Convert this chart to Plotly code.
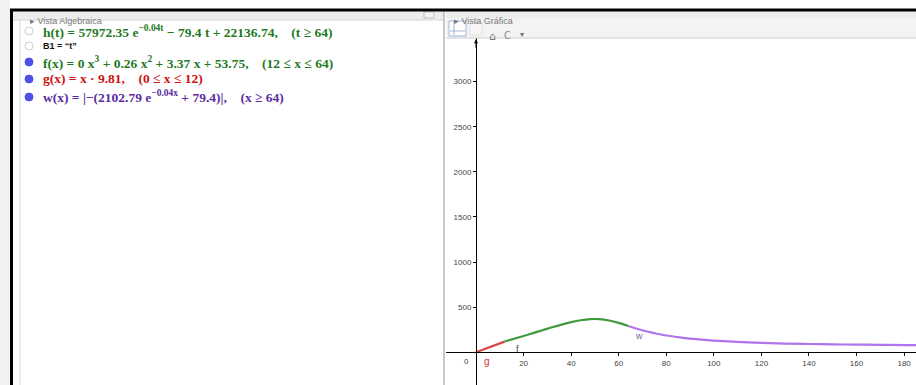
import plotly.graph_objects as go

W, H = 916, 385

# ---- data ----
g_x = [0, 12]
g_y = [0, 118]

f_x = [12, 16, 20, 24, 28, 32, 36, 40, 44, 48, 52, 56, 60, 64]
f_y = [120, 150, 181, 213, 245, 277, 307, 334, 355, 368, 367, 352, 326, 292]

w_x = [64, 68, 72, 76, 80, 88, 96, 104, 112, 120, 130, 140, 150, 160, 170, 180, 186]
w_y = [292, 258, 230, 206, 186, 158, 138, 123, 112, 104, 97, 92, 88, 85, 82, 80, 79]

x_ticks = [20, 40, 60, 80, 100, 120, 140, 160, 180]
y_ticks = [500, 1000, 1500, 2000, 2500, 3000]

algebra_rows = [
    ("h(t) = 57972.35 e<sup>−0.04t</sup> − 79.4 t + 22136.74,\u00a0\u00a0\u00a0\u00a0(t ≥ 64)", "#1f7a1f", False),
    ("B1 = “t”", "#111111", False),
    ("f(x) = 0 x<sup>3</sup> + 0.26 x<sup>2</sup> + 3.37 x + 53.75,\u00a0\u00a0\u00a0\u00a0(12 ≤ x ≤ 64)", "#1f7a1f", True),
    ("g(x) = x · 9.81,\u00a0\u00a0\u00a0\u00a0(0 ≤ x ≤ 12)", "#cc1111", True),
    ("w(x) = |−(2102.79 e<sup>−0.04x</sup> + 79.4)|,\u00a0\u00a0\u00a0\u00a0(x ≥ 64)", "#5a2ca0", True),
]
row_y = [31, 46, 62, 79, 97]

X_RANGE = [-12.62, 185.0]
Y_RANGE = [-362.5, 3484]


def px(x):
    return x / W


def py(y):
    return 1 - y / H


fig = go.Figure()
fig.add_trace(go.Scatter(x=g_x, y=g_y, mode="lines", line=dict(color="#d94848", width=2.2), hoverinfo="skip"))
fig.add_trace(go.Scatter(x=f_x, y=f_y, mode="lines", line=dict(color="#3f9a3f", width=2.2, shape="spline"), hoverinfo="skip"))
fig.add_trace(go.Scatter(x=w_x, y=w_y, mode="lines", line=dict(color="#b074ec", width=2.2, shape="spline"), hoverinfo="skip"))

shapes = []
ann = []

def rect(x0, y0, x1, y1, fill, line=None, lw=0):
    shapes.append(dict(type="rect", xref="paper", yref="paper", x0=px(x0), x1=px(x1), y0=py(y1), y1=py(y0),
                       fillcolor=fill, line=dict(color=line or fill, width=lw), layer="below"))

def hline(x0, x1, y, color, w):
    shapes.append(dict(type="line", xref="paper", yref="paper", x0=px(x0), x1=px(x1), y0=py(y), y1=py(y),
                       line=dict(color=color, width=w), layer="above"))

def vline(x, y0, y1, color, w):
    shapes.append(dict(type="line", xref="paper", yref="paper", x0=px(x), x1=px(x), y0=py(y0), y1=py(y1),
                       line=dict(color=color, width=w), layer="above"))

# window background pieces
rect(0, 0, 10, 385, "#f1f1f1")
rect(13, 11, 443, 20, "#ececec")          # left header
rect(446, 11, 916, 18, "#ececec")         # right header
rect(446, 18, 916, 38, "#f3f3f3")         # toolbar
hline(446, 916, 38, "#cfcfcf", 1)
hline(13, 443, 20, "#d6d6d6", 1)
vline(20, 20, 385, "#d8d8d8", 1)
vline(444, 11, 385, "#c8c8c8", 2)
hline(10, 916, 10, "#000000", 3)
vline(11.5, 10, 385, "#000000", 3)

# toolbar icons
rect(449, 21, 466, 36, "#ffffff", "#9fb6d6", 1)
vline(454, 22, 35, "#9fb6d6", 1)
hline(450, 465, 31, "#9fb6d6", 1)
rect(470, 22, 482, 35, "#f6f6f6", "#e2e2e2", 1)
ann.append(dict(text="⌂", x=px(492), y=py(28), xref="paper", yref="paper", showarrow=False,
                font=dict(family="DejaVu Sans", size=11, color="#777777")))
ann.append(dict(text="C", x=px(508), y=py(28), xref="paper", yref="paper", showarrow=False,
                font=dict(family="DejaVu Sans", size=10, color="#8a8a8a")))
ann.append(dict(text="▾", x=px(522), y=py(28), xref="paper", yref="paper", showarrow=False,
                font=dict(family="DejaVu Sans", size=8, color="#777777")))

# header texts
ann.append(dict(text="▸ Vista Algebraica", x=px(28), y=py(14), xref="paper", yref="paper", xanchor="left",
                showarrow=False, font=dict(family="Liberation Sans", size=9, color="#777777")))
ann.append(dict(text="▸ Vista Gráfica", x=px(452), y=py(14), xref="paper", yref="paper", xanchor="left",
                showarrow=False, font=dict(family="Liberation Sans", size=9, color="#777777")))
rect(424, 12, 434, 18, "#f4f4f4", "#bdbdbd", 1)

# algebra rows
for (txt, col, filled), yy in zip(algebra_rows, row_y):
    shapes.append(dict(type="circle", xref="paper", yref="paper", x0=px(25), x1=px(33), y0=py(yy + 4), y1=py(yy - 4),
                       fillcolor="#5050e8" if filled else "#ffffff",
                       line=dict(color="#5050e8" if filled else "#cfcfcf", width=1), layer="above"))
    is_b1 = txt.startswith("B1")
    ann.append(dict(text="<b>" + txt + "</b>", x=px(41), y=py(yy), xref="paper", yref="paper",
                    xanchor="left", yanchor="middle", showarrow=False,
                    font=dict(family="Liberation Sans" if is_b1 else "Liberation Serif",
                              size=9 if is_b1 else 13.5, color=col)))

# graph annotations
ann.append(dict(text="0", x=-4, y=-100, xref="x", yref="y", showarrow=False,
                font=dict(family="Liberation Sans", size=8, color="#444444")))
ann.append(dict(text="g", x=4.5, y=-100, xref="x", yref="y", showarrow=False,
                font=dict(family="Liberation Sans", size=10, color="#cc3333")))
ann.append(dict(text="f", x=17.5, y=40, xref="x", yref="y", showarrow=False,
                font=dict(family="Liberation Sans", size=9, color="#444444")))
ann.append(dict(text="w", x=68.5, y=180, xref="x", yref="y", showarrow=False,
                font=dict(family="Liberation Sans", size=9, color="#8060a8")))
ann.append(dict(text="", x=0, y=3470, xref="x", yref="y", ax=0, ay=10, showarrow=True,
                arrowhead=2, arrowsize=0.8, arrowwidth=1, arrowcolor="#000000"))

fig.update_layout(
    width=W, height=H,
    margin=dict(l=0, r=0, t=0, b=0),
    paper_bgcolor="#ffffff", plot_bgcolor="#ffffff",
    showlegend=False,
    shapes=shapes, annotations=ann,
    xaxis=dict(domain=[px(446), 1], range=X_RANGE, anchor="free", position=py(352.3),
               showline=True, linecolor="#000000", linewidth=1, ticks="outside", ticklen=3,
               tickcolor="#000000", tickvals=x_ticks, ticktext=[str(v) for v in x_ticks],
               showgrid=False, zeroline=False, fixedrange=True,
               tickfont=dict(family="Liberation Sans", size=8, color="#444444")),
    yaxis=dict(domain=[0, py(38)], range=Y_RANGE, anchor="free", position=px(476),
               showline=True, linecolor="#000000", linewidth=1, ticks="outside", ticklen=3,
               tickcolor="#000000", tickvals=y_ticks, ticktext=[str(v) for v in y_ticks],
               showgrid=False, zeroline=False, fixedrange=True,
               tickfont=dict(family="Liberation Sans", size=8, color="#444444")),
)

fig.write_html("out.html", config={"displayModeBar": False},
               post_script="document.body.style.margin='0';document.body.style.overflow='hidden';")
